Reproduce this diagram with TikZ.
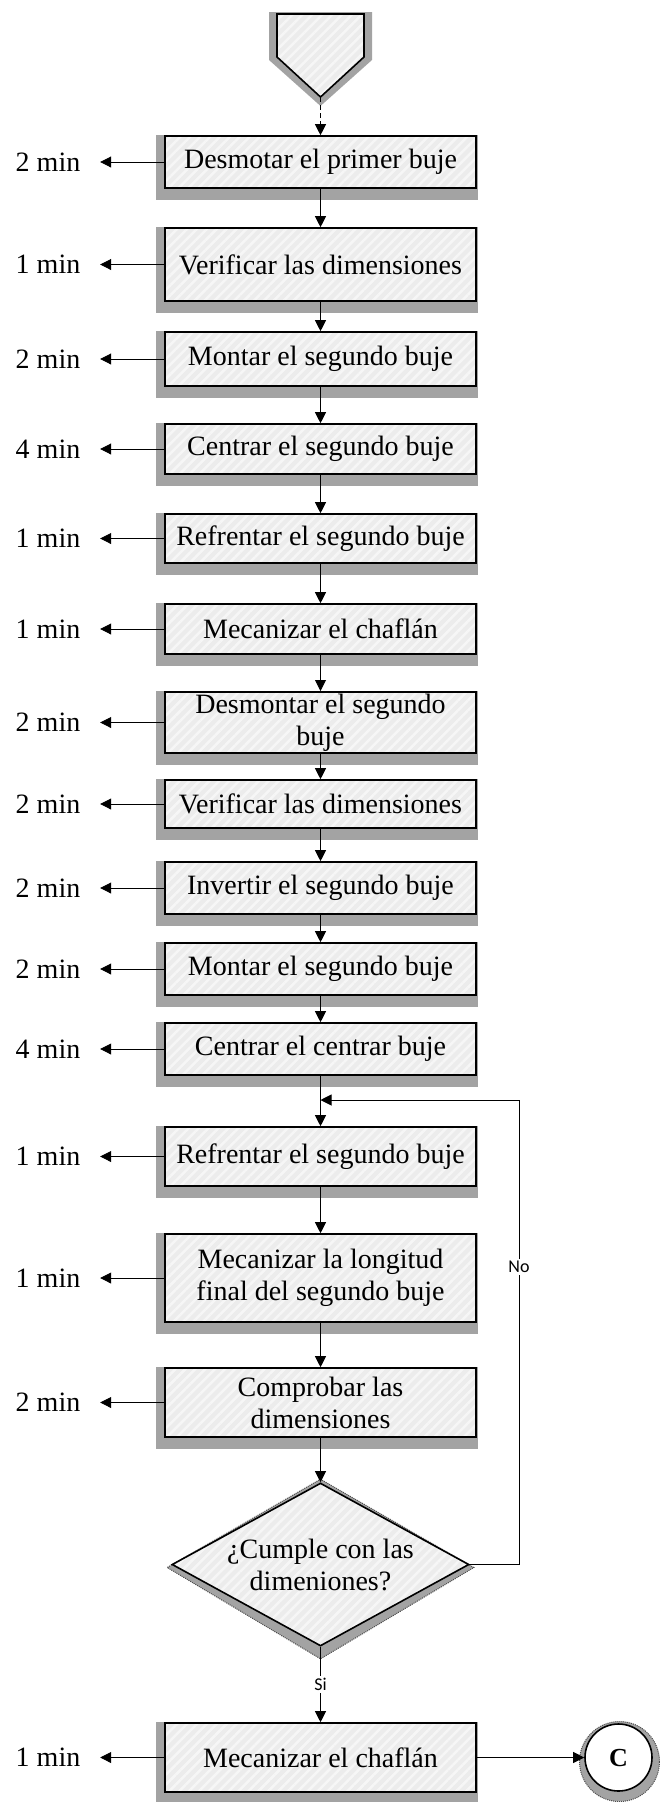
\documentclass[tikz,border=0pt]{standalone}
\usepackage{fontspec}
\setmainfont{Liberation Serif}
\newfontfamily\labelfont{Carlito}
\usetikzlibrary{arrows.meta,calc,shapes.geometric,patterns.meta}
\pgfdeclarelayer{background}
\pgfsetlayers{background,main}
\definecolor{boxfill}{gray}{0.925}
\definecolor{stripe}{gray}{0.965}
\definecolor{shade}{gray}{0.64}
\begin{document}
\begin{tikzpicture}[x=1pt,y=-1pt,
  every node/.style={font=\fontsize{28}{32}\selectfont},
  hatched/.style={preaction={fill=boxfill},
    pattern={Lines[angle=45,distance=7pt,line width=2.5pt]}, pattern color=stripe},
  stepbox/.style={rectangle, draw, line width=1.6pt, hatched,
    minimum width=311pt, inner sep=2pt, align=center},
  decision/.style={diamond, draw, line width=1.6pt, hatched, aspect=1.82,
    minimum width=297pt, minimum height=163pt, inner sep=0pt, align=center},
  endpoint/.style={circle, draw, line width=1.6pt, fill=white,
    minimum size=67pt, inner sep=0pt, font=\fontsize{26}{28}\selectfont\bfseries},
  timelbl/.style={minimum width=104pt, inner sep=0pt},
  flow/.style={line width=0.9pt, -{Triangle[length=11pt,width=11pt]}},
  sino/.style={fill=white, inner sep=2pt, font=\labelfont\fontsize{18}{20}\selectfont},
  shadowfill/.style={fill=shade}
]
\useasboundingbox (0,0) rectangle (660,1802);

% off-page connector at the start
\fill[shadowfill] (269,12) -- (372,12) -- (372,60) -- (320.5,106) -- (269,60) -- cycle;
\draw[line width=1.6pt, hatched] (277,14) -- (364,14) -- (364,57) -- (320.5,97) -- (277,57) -- cycle;
\coordinate (start) at (320.5,97);

% process steps
\node[stepbox, minimum height=52pt] (b1) at (320.5,162) {Desmotar el primer buje};
\node[stepbox, minimum height=73pt] (b2) at (320.5,264.5) {Verificar las dimensiones};
\node[stepbox, minimum height=54pt] (b3) at (320.5,359) {Montar el segundo buje};
\node[stepbox, minimum height=50pt] (b4) at (320.5,449) {Centrar el segundo buje};
\node[stepbox, minimum height=49pt] (b5) at (320.5,538.5) {Refrentar el segundo buje};
\node[stepbox, minimum height=50pt] (b6) at (320.5,629) {Mecanizar el chaflán};
\node[stepbox, minimum height=59pt] (b7) at (320.5,722.5) {Desmontar el segundo\\buje};
\node[stepbox, minimum height=48pt] (b8) at (320.5,804) {Verificar las dimensiones};
\node[stepbox, minimum height=52pt] (b9) at (320.5,888) {Invertir el segundo buje};
\node[stepbox, minimum height=52pt] (b10) at (320.5,969) {Montar el segundo buje};
\node[stepbox, minimum height=52pt] (b11) at (320.5,1049) {Centrar el centrar buje};
\node[stepbox, minimum height=59pt] (b12) at (320.5,1156.5) {Refrentar el segundo buje};
\node[stepbox, minimum height=88pt] (b13) at (320.5,1278) {Mecanizar la longitud\\final del segundo buje};
\node[stepbox, minimum height=69pt] (b14) at (320.5,1402.5) {Comprobar las\\dimensiones};
\node[decision] (d) at (320.5,1564.5) {¿Cumple con las\\dimeniones?};
\node[stepbox, minimum height=69pt] (b15) at (320.5,1757.5) {Mecanizar el chaflán};
\node[endpoint] (c) at (618.5,1757.5) {C};

% times
\node[timelbl] (t1) at (48,162) {2 min};
\node[timelbl] (t2) at (48,264.5) {1 min};
\node[timelbl] (t3) at (48,359) {2 min};
\node[timelbl] (t4) at (48,449) {4 min};
\node[timelbl] (t5) at (48,538.5) {1 min};
\node[timelbl] (t6) at (48,629) {1 min};
\node[timelbl] (t7) at (48,722.5) {2 min};
\node[timelbl] (t8) at (48,804) {2 min};
\node[timelbl] (t9) at (48,888) {2 min};
\node[timelbl] (t10) at (48,969) {2 min};
\node[timelbl] (t11) at (48,1049) {4 min};
\node[timelbl] (t12) at (48,1156.5) {1 min};
\node[timelbl] (t13) at (48,1278) {1 min};
\node[timelbl] (t14) at (48,1402.5) {2 min};
\node[timelbl] (t15) at (48,1757.5) {1 min};
\foreach \i in {1,...,15} { \draw[flow] (b\i) -- (t\i); }

% shadows
\begin{pgfonlayer}{background}
  \foreach \i in {1,...,15} {
    \fill[shadowfill] ($(b\i.north west)+(-8,0)$) rectangle ($(b\i.south east)+(1,11)$);
  }
  \fill[shadowfill] ($(d.north)+(0,-3)$) -- ($(d.east)+(4,3)$) -- ($(d.south)+(0,12)$) -- ($(d.west)+(-4,3)$) -- cycle;
  \draw[densely dotted, gray!60!black, line width=1pt] ($(d.north)+(0,-3)$) -- ($(d.east)+(4,3)$) -- ($(d.south)+(0,12)$) -- ($(d.west)+(-4,3)$) -- cycle;
  \fill[shadowfill] ($(c)+(1,4)$) circle (40pt);
  \draw[densely dotted, gray!60!black, line width=1pt] ($(c)+(1,4)$) circle (40pt);
\end{pgfonlayer}

% connectors
\draw[flow, dash pattern=on 5pt off 3pt] (start) -- (b1.north);
\foreach \a/\b in {1/2,2/3,3/4,4/5,5/6,6/7,7/8,8/9,9/10,10/11,11/12,12/13,13/14} {
  \draw[flow] (b\a.south) -- (b\b.north);
}
\draw[flow] (b14.south) -- (d.north);
\draw[flow] (d.south) -- node[sino] {Si} (b15.north);
\coordinate (loopc) at (519,1100);
\draw[flow] (d.east) -| node[sino, pos=0.82] {No} (loopc) -- (b11.south |- loopc);
\draw[flow] (b15) -- (c);
\end{tikzpicture}
\end{document}
